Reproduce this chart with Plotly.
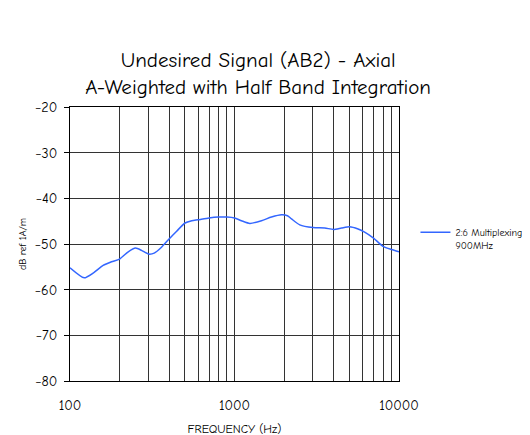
import plotly.graph_objects as go

freq = [100, 122, 139, 159, 179, 200, 226, 250, 272, 300, 325, 360, 400, 445, 500, 550,
        600, 700, 800, 900, 1000, 1103, 1240, 1459, 1678, 1930, 2099, 2220, 2493, 3000,
        3540, 4000, 4465, 5000, 5640, 6180, 7000, 8000, 9000, 10000]
level = [-55.2, -57.4, -56.3, -54.7, -53.9, -53.3, -51.7, -50.9, -51.4, -52.2, -52.0, -50.7,
         -48.9, -47.2, -45.4, -44.9, -44.7, -44.3, -44.1, -44.1, -44.3, -44.9, -45.5, -44.9,
         -44.1, -43.6, -43.8, -44.5, -45.8, -46.4, -46.5, -46.8, -46.5, -46.2, -46.7, -47.4,
         -48.7, -50.5, -51.2, -51.7]
series_name = "2:6 Multiplexing -<br>900MHz"
x_ticks = [100, 1000, 10000]
x_minor = [200, 300, 400, 500, 600, 700, 800, 900, 2000, 3000, 4000, 5000, 6000, 7000, 8000, 9000]
y_ticks = [-20, -30, -40, -50, -60, -70, -80]

FONT = "Comic Sans MS, Comic Neue, DejaVu Sans, sans-serif"

fig = go.Figure()
fig.add_trace(go.Scatter(x=freq, y=level, mode="lines", name=series_name,
                         line=dict(color="#3366FF", width=1.5, shape="spline", smoothing=0.6)))

fig.update_layout(
    width=530, height=435,
    paper_bgcolor="white", plot_bgcolor="white",
    font=dict(family=FONT, color="black", size=13),
    margin=dict(l=62, r=139, t=99, b=62, autoexpand=False),
    title=dict(text="Undesired Signal (AB2) - Axial<br>A-Weighted with Half Band Integration",
               x=0.472, xanchor="center", y=0.864, yanchor="middle",
               font=dict(size=21, family=FONT)),
    showlegend=True,
    legend=dict(x=1.05, xanchor="left", y=0.59, yanchor="top", valign="top",
                font=dict(size=10, family=FONT), bgcolor="rgba(0,0,0,0)",
                tracegroupgap=0, itemwidth=30),
    xaxis=dict(type="log", range=[2, 4], tickvals=x_ticks, ticktext=["100", "1000", "10000"],
               showgrid=True, gridcolor="#333", gridwidth=1,
               showline=True, linecolor="black", linewidth=1, mirror=True,
               ticks="", ticklabelstandoff=11, tickfont=dict(size=14),
               minor=dict(tickvals=x_minor, showgrid=True, gridcolor="#333", gridwidth=1, ticks=""),
               title=dict(text="FREQUENCY (Hz)", font=dict(size=12), standoff=11),
               zeroline=False),
    yaxis=dict(range=[-80, -20], tickvals=y_ticks,
               showgrid=True, gridcolor="#333", gridwidth=1,
               showline=True, linecolor="black", linewidth=1, mirror=True,
               ticks="outside", ticklen=5, tickcolor="black", tickfont=dict(size=14),
               ticklabelstandoff=4,
               title=dict(text="dB ref 1A/m", font=dict(size=10), standoff=6),
               zeroline=False),
)

fig.write_html("out.html")
